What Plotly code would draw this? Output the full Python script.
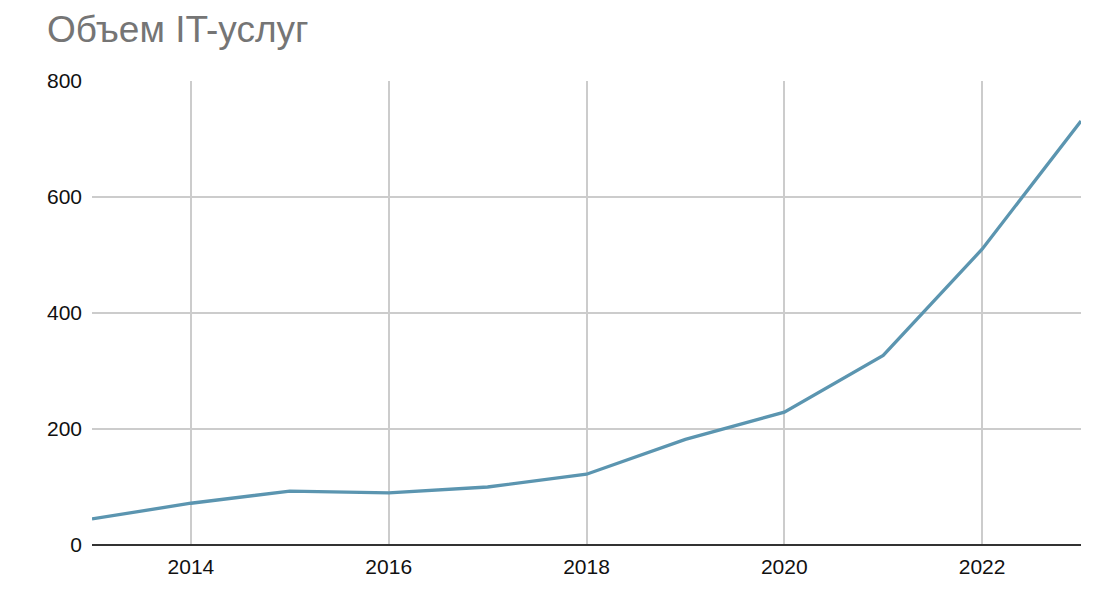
import plotly.graph_objects as go

years = [2013, 2014, 2015, 2016, 2017, 2018, 2019, 2020, 2021, 2022, 2023]
volume = [45, 72, 93, 90, 100, 122, 182, 229, 327, 510, 731]
title_text = "Объем IT-услуг"
x_ticks = [2014, 2016, 2018, 2020, 2022]
y_ticks = [0, 200, 400, 600, 800]

fig = go.Figure()
fig.add_trace(go.Scatter(
    x=years, y=volume, mode="lines",
    line=dict(color="#5b95b0", width=3.3),
    showlegend=False,
))

fig.update_layout(
    width=1104, height=610,
    margin=dict(l=84, r=31, t=73, b=73),
    paper_bgcolor="white", plot_bgcolor="white",
    font=dict(family="Liberation Sans, Arial, sans-serif", color="#111111", size=21),
    title=dict(text=title_text, xref="container", yref="container",
               x=39/1104, xanchor="left", y=1-21/610, yanchor="middle",
               font=dict(size=37, color="#757575", family="Liberation Sans, Arial, sans-serif")),
)
fig.update_xaxes(
    range=[2013, 2023], tickvals=x_ticks, showgrid=True, gridcolor="#cccccc", gridwidth=1.5,
    zeroline=False, showline=False, ticks="", ticklabelstandoff=7,
    tickfont=dict(size=21, color="#111111"),
)
fig.update_yaxes(
    range=[0, 800], tickvals=y_ticks, showgrid=True, gridcolor="#cccccc", gridwidth=1.5,
    zeroline=True, zerolinecolor="#333333", zerolinewidth=2, showline=False, ticks="",
    ticklabelstandoff=9, tickfont=dict(size=21, color="#111111"),
)

fig.write_html("out.html")
